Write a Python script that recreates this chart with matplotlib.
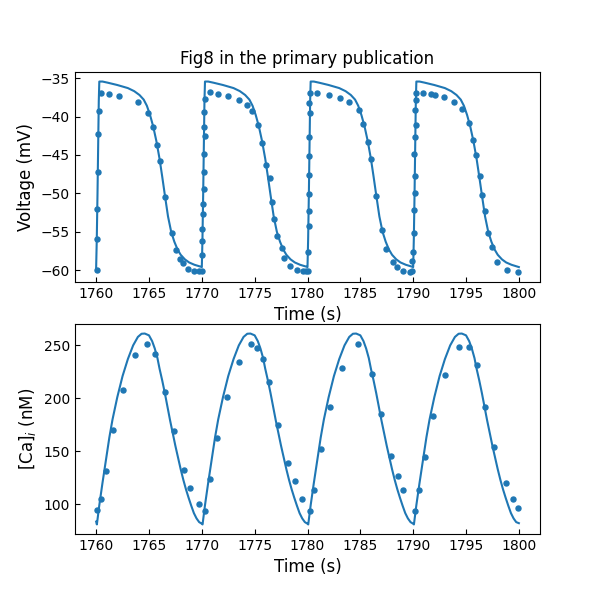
import matplotlib
matplotlib.use("Agg")
import matplotlib.pyplot as plt

# ---- model (line) : voltage ----
model_t_v = [
    1760.0, 1760.06, 1760.13, 1760.2, 1760.25, 1760.3, 1760.6, 1761.1, 1762.0, 1763.0, 1763.6, 1764.1,
    1764.5, 1764.8, 1765.1, 1765.4, 1765.7, 1766.0, 1766.25, 1766.5, 1766.8, 1767.1, 1767.4, 1767.7,
    1768.0, 1768.4, 1768.8, 1769.3, 1769.9,
    1770.0, 1770.06, 1770.13, 1770.2, 1770.25, 1770.3, 1770.6, 1771.1, 1772.0, 1773.0, 1773.6, 1774.1,
    1774.5, 1774.8, 1775.1, 1775.4, 1775.7, 1776.0, 1776.25, 1776.5, 1776.8, 1777.1, 1777.4, 1777.7,
    1778.0, 1778.4, 1778.8, 1779.3, 1779.9,
    1780.0, 1780.06, 1780.13, 1780.2, 1780.25, 1780.3, 1780.6, 1781.1, 1782.0, 1783.0, 1783.6, 1784.1,
    1784.5, 1784.8, 1785.1, 1785.4, 1785.7, 1786.0, 1786.25, 1786.5, 1786.8, 1787.1, 1787.4, 1787.7,
    1788.0, 1788.4, 1788.8, 1789.3, 1789.9,
    1790.0, 1790.06, 1790.13, 1790.2, 1790.25, 1790.3, 1790.6, 1791.1, 1792.0, 1793.0, 1793.6, 1794.1,
    1794.5, 1794.8, 1795.1, 1795.4, 1795.7, 1796.0, 1796.25, 1796.5, 1796.8, 1797.1, 1797.4, 1797.7,
    1798.0, 1798.4, 1798.8, 1799.3, 1800.0,
]
model_v = [
    -59.7, -56.0, -50.0, -43.0, -38.0, -35.45, -35.45, -35.6, -35.9, -36.3, -36.7, -37.2,
    -37.8, -38.6, -39.8, -41.3, -43.2, -45.5, -47.8, -50.2, -53.0, -55.0, -56.3, -57.3,
    -58.0, -58.6, -59.0, -59.3, -59.55,
    -59.6, -56.0, -50.0, -43.0, -38.0, -35.45, -35.45, -35.6, -35.9, -36.3, -36.7, -37.2,
    -37.8, -38.6, -39.8, -41.3, -43.2, -45.5, -47.8, -50.2, -53.0, -55.0, -56.3, -57.3,
    -58.0, -58.6, -59.0, -59.3, -59.55,
    -59.6, -56.0, -50.0, -43.0, -38.0, -35.45, -35.45, -35.6, -35.9, -36.3, -36.7, -37.2,
    -37.8, -38.6, -39.8, -41.3, -43.2, -45.5, -47.8, -50.2, -53.0, -55.0, -56.3, -57.3,
    -58.0, -58.6, -59.0, -59.3, -59.55,
    -59.6, -56.0, -50.0, -43.0, -38.0, -35.45, -35.45, -35.6, -35.9, -36.3, -36.7, -37.2,
    -37.8, -38.6, -39.8, -41.3, -43.2, -45.5, -47.8, -50.2, -53.0, -55.0, -56.3, -57.3,
    -58.0, -58.6, -59.0, -59.3, -59.6,
]

# ---- model (line) : calcium ----
model_t_ca = [
    1760.0, 1760.07, 1760.3, 1760.6, 1760.95, 1761.25, 1761.55, 1762.0, 1762.5, 1763.0, 1763.5, 1763.95,
    1764.3, 1764.6, 1765.0, 1765.3, 1765.55, 1765.8, 1766.0, 1766.25, 1766.5, 1766.75, 1767.0, 1767.25,
    1767.5, 1767.75, 1768.0, 1768.25, 1768.5, 1768.75, 1769.0, 1769.25, 1769.5, 1769.75,
    1770.0, 1770.07, 1770.3, 1770.6, 1770.95, 1771.25, 1771.55, 1772.0, 1772.5, 1773.0, 1773.5, 1773.95,
    1774.3, 1774.6, 1775.0, 1775.3, 1775.55, 1775.8, 1776.0, 1776.25, 1776.5, 1776.75, 1777.0, 1777.25,
    1777.5, 1777.75, 1778.0, 1778.25, 1778.5, 1778.75, 1779.0, 1779.25, 1779.5, 1779.75,
    1780.0, 1780.07, 1780.3, 1780.6, 1780.95, 1781.25, 1781.55, 1782.0, 1782.5, 1783.0, 1783.5, 1783.95,
    1784.3, 1784.6, 1785.0, 1785.3, 1785.55, 1785.8, 1786.0, 1786.25, 1786.5, 1786.75, 1787.0, 1787.25,
    1787.5, 1787.75, 1788.0, 1788.25, 1788.5, 1788.75, 1789.0, 1789.25, 1789.5, 1789.75,
    1790.0, 1790.07, 1790.3, 1790.6, 1790.95, 1791.25, 1791.55, 1792.0, 1792.5, 1793.0, 1793.5, 1793.95,
    1794.3, 1794.6, 1795.0, 1795.3, 1795.55, 1795.8, 1796.0, 1796.25, 1796.5, 1796.75, 1797.0, 1797.25,
    1797.5, 1797.75, 1798.0, 1798.25, 1798.5, 1798.75, 1799.0, 1799.25, 1799.5, 1799.75, 1800.0,
]
model_ca = [
    83.5, 80.8, 99, 120, 143, 163, 180, 201, 221, 237, 250, 258,
    261, 261.2, 259.5, 254, 247, 238, 228, 217, 205, 192, 179, 167,
    155, 144, 133, 123, 114, 106, 98.5, 91.5, 86.5, 83,
    81.5, 80.8, 99, 120, 143, 163, 180, 201, 221, 237, 250, 258,
    261, 261.2, 259.5, 254, 247, 238, 228, 217, 205, 192, 179, 167,
    155, 144, 133, 123, 114, 106, 98.5, 91.5, 86.5, 83,
    81.5, 80.8, 99, 120, 143, 163, 180, 201, 221, 237, 250, 258,
    261, 261.2, 259.5, 254, 247, 238, 228, 217, 205, 192, 179, 167,
    155, 144, 133, 123, 114, 106, 98.5, 91.5, 86.5, 83,
    81.5, 80.8, 99, 120, 143, 163, 180, 201, 221, 237, 250, 258,
    261, 261.2, 259.5, 254, 247, 238, 228, 217, 205, 192, 179, 167,
    155, 144, 133, 123, 114, 106, 98.5, 91.5, 86.5, 83, 82,
]

# ---- experimental points : voltage ----
data_t_v = [
    1760.06, 1760.06, 1760.06, 1760.13, 1760.19, 1760.25, 1760.44, 1761.2, 1762.15, 1763.96, 1764.9,
    1765.38, 1765.76, 1766.04, 1766.49, 1767.18, 1767.56, 1767.97, 1768.23, 1768.7, 1769.27, 1769.78, 1769.97,
    1770.03, 1770.06, 1770.06, 1770.13, 1770.13, 1770.2, 1770.2, 1770.2, 1770.28, 1770.25, 1770.25, 1770.32,
    1770.79, 1771.55, 1772.5, 1773.54, 1774.3, 1774.78, 1775.32, 1775.73, 1776.1, 1776.42, 1776.68, 1776.87,
    1777.15, 1777.56, 1777.82, 1778.39, 1779.05, 1779.6, 1779.85, 1780.05,
    1780.02, 1780.1, 1780.1, 1780.12, 1780.12, 1780.15, 1780.16, 1780.2, 1780.18, 1780.23,
    1780.9, 1781.99, 1783.08, 1783.93, 1784.85, 1785.26, 1785.77, 1786.0, 1786.5, 1787.09, 1787.44,
    1788.1, 1788.48, 1789.0, 1789.68, 1789.9,
    1789.93, 1790.0, 1790.1, 1790.1, 1790.15, 1790.15, 1790.1, 1790.15, 1790.25, 1790.2, 1790.22, 1790.28,
    1790.95, 1791.7, 1792.1, 1792.93, 1793.85, 1794.6, 1795.27, 1795.65, 1795.94, 1796.28, 1796.5, 1796.76,
    1797.1, 1797.48, 1797.96, 1798.9, 1799.88,
]
data_v = [
    -60.0, -55.96, -52.06, -47.24, -42.29, -39.3, -36.95, -37.08, -37.3, -38.1, -39.56,
    -41.38, -43.68, -45.76, -50.45, -55.18, -57.4, -58.5, -59.05, -59.87, -60.09, -60.17, -60.09,
    -58.0, -56.2, -54.6, -52.7, -51.4, -49.5, -47.2, -44.9, -42.6, -41.4, -39.4, -37.7,
    -36.8, -37.04, -37.3, -37.86, -38.56, -39.3, -41.08, -43.46, -46.3, -48.0, -51.15, -53.36,
    -55.5, -57.1, -58.4, -59.44, -59.96, -60.1, -60.1, -60.1,
    -57.7, -54.3, -52.3, -50.1, -47.6, -45.2, -42.7, -39.6, -38.3, -37.0,
    -37.0, -37.2, -37.56, -38.1, -39.1, -41.0, -43.3, -45.5, -50.4, -54.75, -57.2,
    -59.0, -59.56, -60.09, -60.3, -60.13,
    -58.8, -57.6, -55.2, -52.2, -50.0, -47.7, -44.9, -42.7, -41.1, -39.2, -37.9, -36.95,
    -36.95, -37.08, -37.2, -37.5, -38.1, -39.0, -40.8, -43.0, -45.0, -47.7, -50.2, -52.3,
    -55.1, -57.0, -58.9, -60.0, -60.26,
]

# ---- experimental points : calcium ----
data_t_ca = [
    1760.06, 1760.44, 1760.95, 1761.58, 1762.53, 1763.66, 1764.77, 1765.53, 1766.47, 1767.36, 1768.27,
    1768.84, 1769.73, 1770.3, 1770.73, 1771.46, 1772.35, 1773.48, 1774.65, 1775.22, 1775.78, 1776.36,
    1777.2, 1778.15, 1778.78, 1779.48, 1780.23, 1780.61, 1781.31, 1782.13, 1783.27, 1784.78, 1786.11,
    1786.93, 1787.88, 1788.57, 1789.05, 1790.18, 1790.56, 1791.13, 1791.89, 1792.99, 1794.29, 1795.24,
    1796.0, 1796.81, 1797.66, 1798.8, 1799.46, 1799.94,
]
data_ca = [
    94.0, 105.3, 131.1, 169.8, 207.5, 240.6, 250.9, 242.1, 205.7, 168.9, 132.7,
    115.7, 99.7, 93.4, 123.3, 162.9, 201.0, 234.6, 250.9, 247.8, 236.8, 215.1,
    175.2, 139.3, 121.4, 105.3, 93.4, 113.8, 152.5, 191.8, 228.9, 250.9, 223.3,
    185.5, 145.9, 127.0, 113.8, 93.4, 112.9, 144.3, 183.6, 221.7, 248.7, 248.7,
    231.8, 192.1, 154.4, 120.4, 104.4, 95.9,
]

x_ticks = [1760, 1765, 1770, 1775, 1780, 1785, 1790, 1795, 1800]

color = "#1f77b4"
fig, (ax1, ax2) = plt.subplots(2, 1, figsize=(6, 6), dpi=100)

ax1.plot(model_t_v, model_v, color=color, lw=1.5)
ax1.plot(data_t_v, data_v, "o", color=color, ms=3.6)
ax1.set_title("Fig8 in the primary publication", fontsize=12)
ax1.set_xlabel("Time (s)", fontsize=12)
ax1.set_ylabel("Voltage (mV)", fontsize=12)
ax1.set_yticks([-60, -55, -50, -45, -40, -35])

ax2.plot(model_t_ca, model_ca, color=color, lw=1.5)
ax2.plot(data_t_ca, data_ca, "o", color=color, ms=3.6)
ax2.set_xlabel("Time (s)", fontsize=12)
ax2.set_ylabel("[Ca]$_i$ (nM)", fontsize=12)
ax2.set_yticks([100, 150, 200, 250])

for ax in (ax1, ax2):
    ax.set_xticks(x_ticks)
    ax.tick_params(direction="in")

fig.savefig("out.png", dpi=100)
